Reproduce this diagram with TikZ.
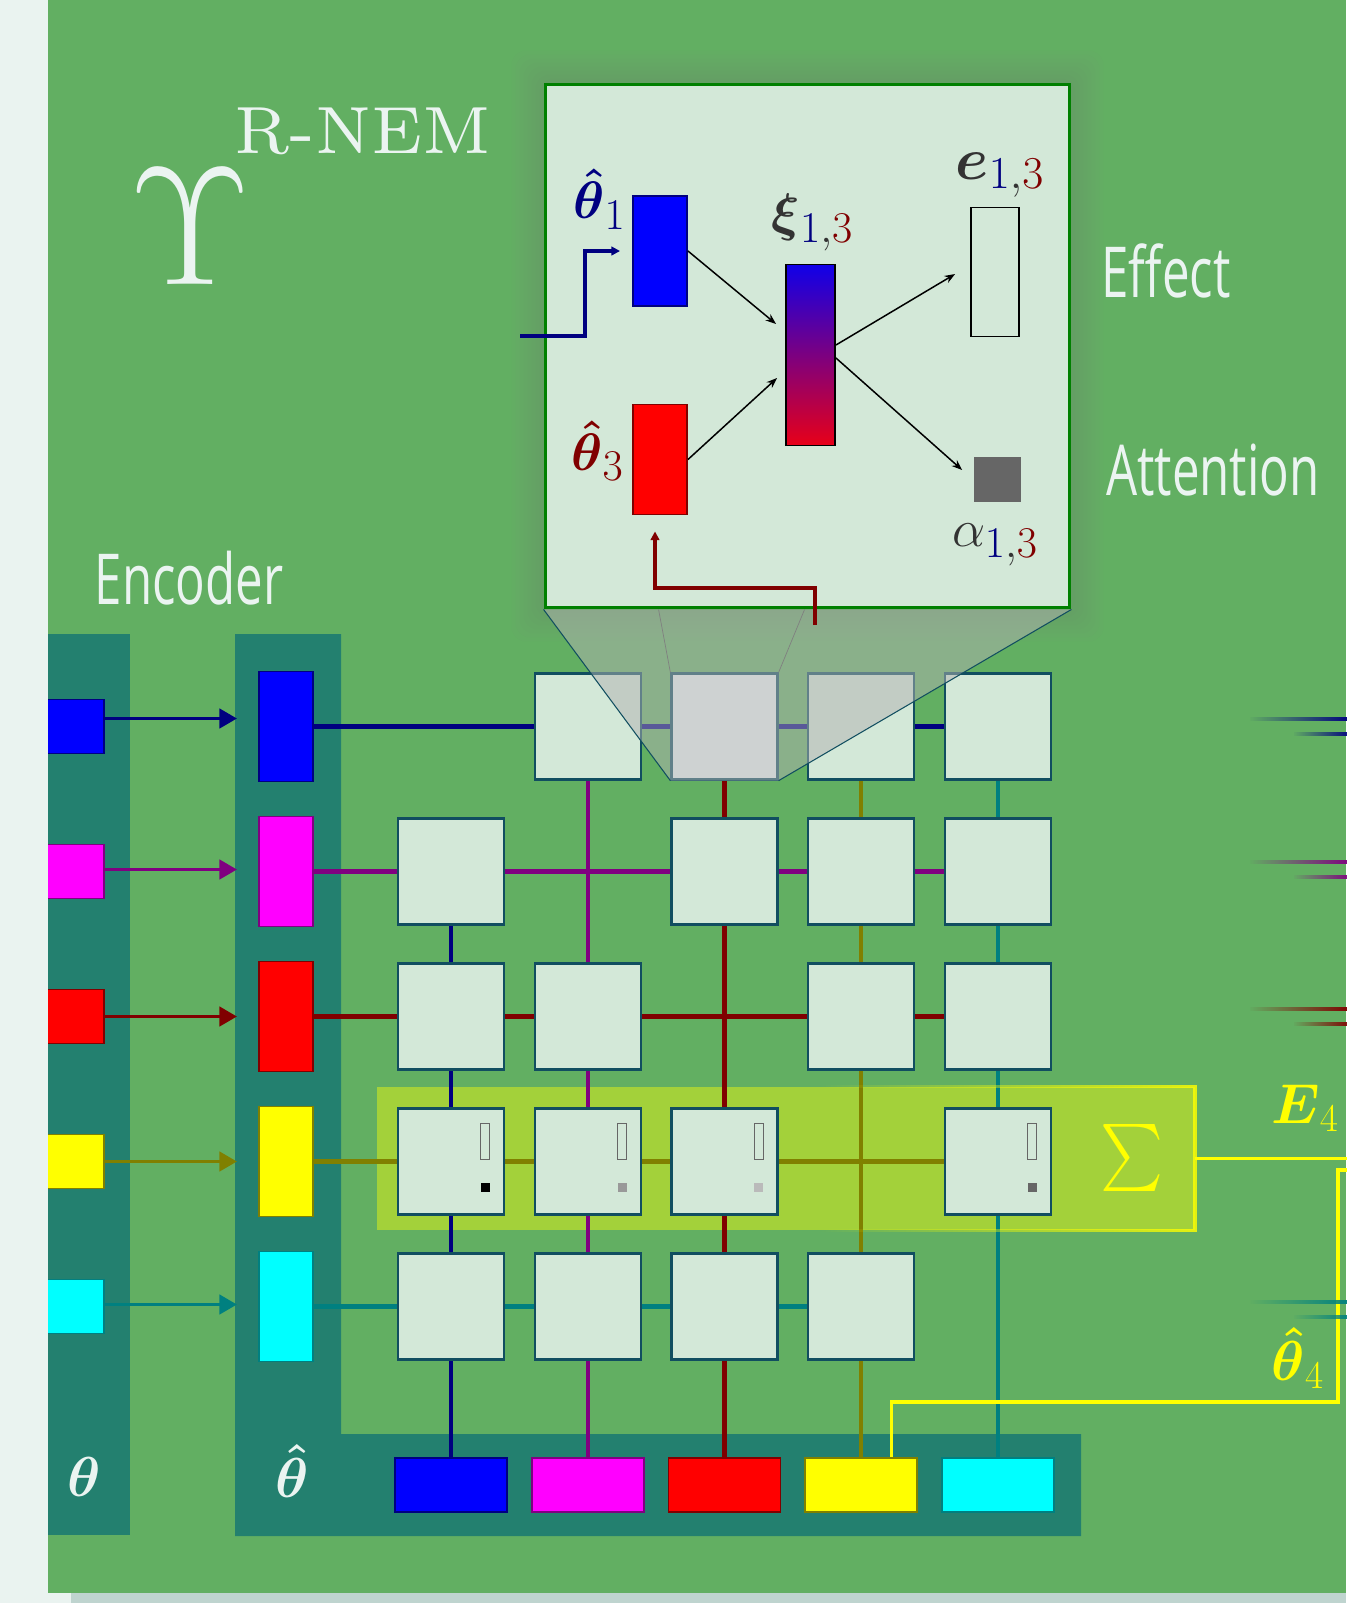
\RequirePackage{fix-cm}
\documentclass[tikz,border=0pt]{standalone}
\usepackage{amsmath}
\usepackage{exscale}
\usepackage{fontspec}
\newfontfamily\thinfont{Open Sans}[FakeStretch=0.7]
\newfontfamily\lmseven{lmroman7-regular}[Extension=.otf]
\usetikzlibrary{positioning,calc,arrows.meta,fadings}

\DeclareMathSizes{30}{30}{25}{18}
\DeclareMathSizes{34}{34}{26}{19}

\definecolor{slidegreen}{HTML}{62AF62}
\definecolor{panelteal}{HTML}{23806F}
\definecolor{bandgreen}{HTML}{A3D13A}
\definecolor{cellfill}{HTML}{D3E8D8}
\definecolor{cellhi}{HTML}{EBF3F3}
\definecolor{celledge}{HTML}{114E60}
\definecolor{paper}{HTML}{EAF3F0}
\definecolor{chalk}{HTML}{EBF4F1}
\definecolor{shadowgray}{HTML}{BFD4CF}
\definecolor{wnavy}{HTML}{000080}
\definecolor{wpurple}{HTML}{800080}
\definecolor{wmaroon}{HTML}{800000}
\definecolor{wolive}{HTML}{808000}
\definecolor{wteal}{HTML}{008080}
\definecolor{oblue}{RGB}{0,0,255}
\definecolor{omagenta}{RGB}{255,0,255}
\definecolor{ored}{RGB}{255,0,0}
\definecolor{oyellow}{RGB}{255,255,0}
\definecolor{ocyan}{RGB}{0,255,255}
\definecolor{zoomgreen}{HTML}{008000}
\definecolor{ink}{HTML}{333333}
\definecolor{xitop}{HTML}{1000E8}
\definecolor{xibot}{HTML}{E80018}

\pgfdeclarelayer{back}
\pgfdeclarelayer{wires}
\pgfsetlayers{back,wires,main}

\tikzfading[name=fadein, left color=transparent!100, right color=transparent!0]
\pgfdeclarehorizontalshading{sumfadeshading}{100bp}{color(0bp)=(transparent!100); color(52bp)=(transparent!100); color(80bp)=(transparent!0); color(100bp)=(transparent!0)}
\pgfdeclarefading{sumfade}{\pgfuseshading{sumfadeshading}}

\begin{document}
\begin{tikzpicture}[x=0.02cm, y=-0.02cm,
    cell/.style={rectangle, draw=celledge, line width=1.3pt, fill=cellfill, minimum size=2.12cm, inner sep=0pt},
    seed/.style={rectangle, line width=1.1pt, minimum width=1.2cm, minimum height=1.08cm, inner sep=0pt},
    slot/.style={rectangle, line width=1.1pt, minimum width=1.08cm, minimum height=2.2cm, inner sep=0pt},
    outbox/.style={rectangle, line width=1.1pt, minimum width=2.24cm, minimum height=1.08cm, inner sep=0pt},
    effmark/.style={rectangle, draw=black!60, line width=0.6pt, fill=cellfill, minimum width=0.18cm, minimum height=0.72cm, inner sep=0pt},
    attmark/.style={rectangle, minimum size=0.18cm, inner sep=0pt},
    wire/.style={line width=2.3pt},
    feed/.style={line width=2pt, -{Triangle[length=10pt, width=11pt]}, shorten >=12pt},
    ywire/.style={oyellow, line width=2pt},
    flow/.style={black, line width=0.85pt, -{Stealth[length=6pt, width=4.5pt]}},
    zwire/.style={line width=2pt, -{Triangle[length=5pt, width=5pt]}},
    chalktext/.style={text=chalk, inner sep=0pt},
    word/.style={chalktext, font=\thinfont\fontsize{40}{44}\selectfont},
    zlabel/.style={inner sep=0pt, font=\fontsize{30}{32}\selectfont},
    biglabel/.style={inner sep=0pt, font=\fontsize{32}{34}\selectfont}
]
\useasboundingbox (0,0) rectangle (1346,1603);

% slide, panels, highlighted row
\begin{pgfonlayer}{back}
  \fill[paper] (0,0) rectangle (1346,1603);
  \fill[shadowgray] (71,1593) rectangle (1346,1603);
  \fill[slidegreen] (48,0) rectangle (1346,1593);
  \fill[panelteal] (48,634) rectangle (129.5,1535);
  \fill[panelteal] (235,634) -- (341,634) -- (341,1434) -- (1081,1434) -- (1081,1536) -- (235,1536) -- cycle;
  \node[fill=bandgreen, minimum width=16.36cm, minimum height=2.86cm, inner sep=0pt] (sumbox) at (786,1158.5) {};
\end{pgfonlayer}

\node[chalktext, font=\fontsize{96}{100}\selectfont] (ups) at (190,227) {$\Upsilon$};
\node[chalktext, font=\lmseven\fontsize{38}{40}\selectfont, anchor=base west] (rnem) at (234,153) {R-NEM};
\node[word] (encoder) at (189,578) {Encoder};

% objects: theta, theta hat, outputs
\foreach \i/\wc/\fc in {1/wnavy/oblue, 2/wpurple/omagenta, 3/wmaroon/ored, 4/wolive/oyellow, 5/wteal/ocyan}{
  \pgfmathsetmacro\ry{726.5+145*(\i-1)}
  \pgfmathsetmacro\cx{451+136.75*(\i-1)}
  \node[seed, fill=\fc, draw=\wc] (th\i) at (74,\ry) {};
  \node[slot, fill=\fc, draw=\wc] (thh\i) at (286,\ry) {};
  \node[outbox, fill=\fc, draw=\wc] (out\i) at (\cx,1485) {};
}

% pairwise cells
\foreach \r in {1,...,5}{
  \foreach \c in {1,...,5}{
    \ifnum\r=\c\else
      \ifnum\r\c=13 \def\cf{cellhi}\else\def\cf{cellfill}\fi
      \node[cell, fill=\cf] (c\r\c) at ({451+136.75*(\c-1)},{726.5+145*(\r-1)}) {};
    \fi
  }
}
\foreach \c/\g in {1/black, 2/black!40, 3/black!27, 5/black!60}{
  \node[effmark] (em4\c) at ($(c4\c.center)+(34.4,-20)$) {};
  \node[attmark, fill=\g] (am4\c) at ($(c4\c.center)+(34.4,26)$) {};
}

\begin{pgfonlayer}{wires}
  \foreach \i/\wc/\last in {1/wnavy/5, 2/wpurple/5, 3/wmaroon/5, 4/wolive/5, 5/wteal/4}
    \draw[wire, \wc] (thh\i.east) -- (c\i\last.center);
  \foreach \j/\wc/\first in {1/wnavy/2, 2/wpurple/1, 3/wmaroon/1, 4/wolive/1, 5/wteal/1}
    \draw[wire, \wc] (c\first\j.center) -- (out\j.north);
\end{pgfonlayer}

\foreach \i/\wc/\dy in {1/wnavy/-8, 2/wpurple/-2, 3/wmaroon/0, 4/wolive/0, 5/wteal/-2}
  \draw[feed, \wc] ($(th\i.east)+(0,\dy)$) -- ($(thh\i.west)+(0,\dy)$);

% zoomed relation module
\node[draw=zoomgreen, line width=1.7pt, fill=cellfill, minimum width=10.5cm, minimum height=10.48cm, inner sep=0pt] (zbox) at (807.5,346) {};
\begin{pgfonlayer}{wires}
  \foreach \g in {1,...,8}
    \fill[gray, opacity=0.035, rounded corners=8pt] ($(zbox.south west)+(-4*\g,4*\g)$) rectangle ($(zbox.north east)+(4*\g,-4*\g)$);
\end{pgfonlayer}
\fill[black!30, opacity=0.5] (zbox.south west) -- (zbox.south east) -- (c13.south east) -- (c13.south west) -- cycle;
\draw[celledge, line width=0.6pt] (zbox.south west) -- (c13.south west) (zbox.south east) -- (c13.south east);
\draw[gray, line width=0.4pt] (c13.north west) -- ($(zbox.south west)+(115,0)$) (c13.north east) -- ($(zbox.south west)+(261,0)$);

\node[slot, fill=oblue, draw=wnavy] (zth1) at (660,251) {};
\node[slot, fill=ored, draw=wmaroon] (zth3) at (660,459.5) {};
\node[draw=black, line width=1.1pt, top color=xitop, bottom color=xibot, minimum width=0.98cm, minimum height=3.62cm, inner sep=0pt] (zxi) at (810.5,355) {};
\node[draw=black, line width=1pt, minimum width=0.96cm, minimum height=2.58cm, inner sep=0pt] (zeff) at (995,272) {};
\node[fill=black!60, minimum width=0.94cm, minimum height=0.9cm, inner sep=0pt] (zatt) at (997,479) {};

\draw[flow] (zth1.east) -- ($(zxi.west)+(-9,-31)$);
\draw[flow] (zth3.east) -- ($(zxi.west)+(-8,23)$);
\draw[flow] ($(zxi.east)+(0,-10)$) -- ($(zeff.west)+(-15,2)$);
\draw[flow] ($(zxi.east)+(0,3)$) -- ($(zatt.west)+(-11,-9)$);

\coordinate (zin1) at (520,336);
\draw[zwire, wnavy] (zin1) -- ++(65,0) |- ($(zth1.west)+(-12,0)$);
\coordinate (zin3) at (815,625);
\draw[zwire, wmaroon] (zin3) -- ++(0,-37) -| ($(zth3.south)+(-5,16)$);

\node[zlabel, text=wnavy, anchor=east] (lth1) at ($(zth1.north west)+(-6,4)$) {$\boldsymbol{\hat\theta}_1$};
\node[zlabel, text=wmaroon, anchor=east] (lth3) at ($(zth3.west)+(-8,-9)$) {$\boldsymbol{\hat\theta}_3$};
\node[zlabel, text=ink, anchor=south] (lxi) at ($(zxi.north)+(2,-12)$) {$\boldsymbol{\xi}_{\textcolor{wnavy}{1},\textcolor{wmaroon}{3}}$};
\node[zlabel, text=ink, anchor=south, font=\fontsize{34}{36}\selectfont] (leff) at ($(zeff.north)+(5,-9)$) {$\boldsymbol{e}_{\textcolor{wnavy}{1},\textcolor{wmaroon}{3}}$};
\node[zlabel, text=ink, anchor=north] (latt) at ($(zatt.south)+(-2,22)$) {$\alpha_{\textcolor{wnavy}{1},\textcolor{wmaroon}{3}}$};

\node[word] (effect) at (1166,271) {Effect};
\node[word] (attention) at (1213,470) {Attention};

% sum over the attended effects of object 4
\draw[oyellow, line width=2pt, path fading=sumfade] (sumbox.north west) rectangle (sumbox.south east);
\node[text=oyellow, inner sep=0pt] (sigma) at (1131.6,1157.6) {\resizebox*{1.26cm}{1.34cm}{$\sum$}};
\coordinate (eout) at (1350,1158.5);
\draw[ywire] (sumbox.east) -- (eout);
\node[biglabel, text=oyellow] (le4) at (1305,1108) {$\boldsymbol{E}_4$};
\coordinate (fbin) at (1350,1170);
\draw[ywire] (fbin) -- ++(-12,0) -- ++(0,232) -| ($(out4.north)+(30,0)$);
\node[biglabel, text=oyellow] (lth4) at (1298,1358) {$\boldsymbol{\hat\theta}_4$};

% outgoing stubs
\foreach \n/\x/\y/\wc in {1/1250/718.7/wnavy, 2/1294/733.7/wnavy, 3/1250/862.3/wpurple, 4/1294/877/wpurple, 5/1250/1008.7/wmaroon, 6/1294/1023.7/wmaroon, 7/1250/1301.8/wteal, 8/1294/1317/wteal}{
  \coordinate (stubA\n) at (\x,\y);
  \coordinate (stubB\n) at (1350,\y);
  \draw[wire, \wc, path fading=fadein] (stubA\n) -- (stubB\n);
}

\node[biglabel, text=chalk] (lth) at (84,1477) {$\boldsymbol{\theta}$};
\node[biglabel, text=chalk] (lthh) at (292,1471) {$\boldsymbol{\hat\theta}$};

\fill[paper] (0,0) rectangle (48,1603);
\end{tikzpicture}
\end{document}
